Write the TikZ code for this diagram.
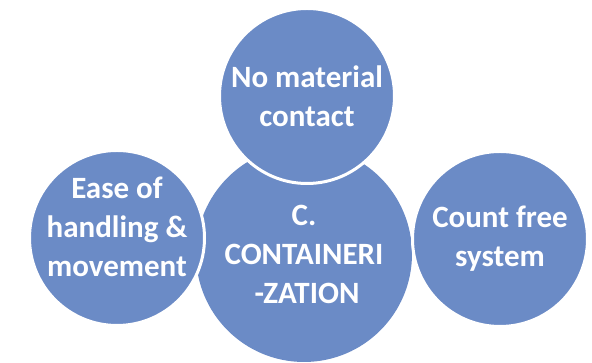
\documentclass[tikz,border=0pt]{standalone}
\usepackage{fontspec}
\setmainfont{Carlito}
\definecolor{circblue}{RGB}{107,139,198}
\begin{document}
\begin{tikzpicture}[x=1pt,y=1pt]
		\tikzstyle{main-node}=[circle,fill=circblue,text=white,inner sep=0pt,align=center,minimum size=216pt,font=\bfseries\fontsize{31}{39}\selectfont]
		\tikzstyle{side-node}=[circle,fill=circblue,draw=white,line width=3pt,text=white,inner sep=0pt,align=center,minimum size=175pt,font=\bfseries\fontsize{31}{39}\selectfont]
		\tikzstyle{side-text}=[text=white,inner sep=0pt,align=center,font=\bfseries\fontsize{31}{39}\selectfont]
		\useasboundingbox (0,0) rectangle (592,363);
		% middle circle
		\node [main-node] at (304,109) (cont) {C.\\CONTAINERI\\\hspace{6pt}-ZATION};
		% circles around it
		\node [side-node] at (307,267) (nomat) {No material\\contact};
		\node [side-node] at (117,125) (ease) {};
		\node [side-text] at ([yshift=11pt]ease.center) (ease-text) {Ease of\\handling \&\\movement};
		\node [side-node] at (500,124) (count) {Count free\\system};
	\end{tikzpicture}
\end{document}
